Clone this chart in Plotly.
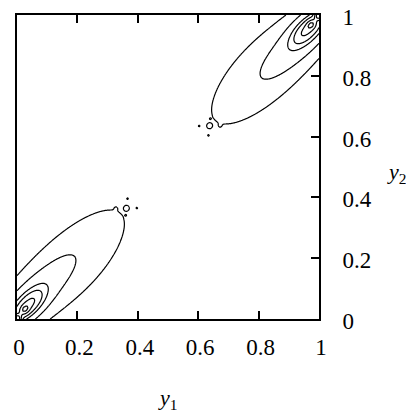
import numpy as np
import plotly.graph_objects as go

# ---- data ----
# Density components of the lower-left mode, in diagonal coordinates
# (u along the diagonal from the corner, v across it); the upper-right
# mode is the point reflection of the same components through (0.5, 0.5).
comp_u = [0.260, 0.022, 0.060, 0.039, 0.000, 0.515, 0.5388, 0.5388, 0.4907, 0.4978]
comp_v = [0.000, 0.018, 0.004, 0.003, 0.000, 0.0014, 0.0212, -0.0226, 0.0269, -0.0141]
comp_su = [0.250, 0.160, 0.050, 0.012, 0.010, 0.006, 0.0025, 0.0025, 0.006, 0.005]
comp_sv = [0.105, 0.045, 0.025, 0.010, 0.010, 0.006, 0.0025, 0.0025, 0.006, 0.005]
comp_h = [1.50, 1.74, 2.00, 0.80, 2.50, 0.335, 0.30, 0.30, 0.06, 0.05]

# where each contour line crosses the diagonal (outer to inner), lower-left mode
contour_tips = [0.345, 0.195, 0.103, 0.083, 0.058, 0.036]

x_ticks = [0, 0.2, 0.4, 0.6, 0.8, 1]
x_ticktext = ["0", "0.2", "0.4", "0.6", "0.8", "1"]
y_ticks = [0, 0.2, 0.4, 0.6, 0.8, 1]
y_ticktext = ["0", "0.2", "0.4", "0.6", "0.8", "1"]

# ---- field ----
S2 = np.sqrt(2.0)


def lobe(x, y):
    u = (x + y) / S2
    v = (y - x) / S2
    f = np.zeros_like(u, dtype=float)
    for uc, vc, su, sv, h in zip(comp_u, comp_v, comp_su, comp_sv, comp_h):
        f += h * np.exp(-0.5 * ((u - uc) / su) ** 2 - 0.5 * ((v - vc) / sv) ** 2)
    return f


def field(x, y):
    return lobe(x, y) + lobe(1 - x, 1 - y)


grid = np.linspace(0, 1, 501)
X, Y = np.meshgrid(grid, grid)
F = field(X, Y)

tips = np.array(contour_tips)
levels = field(tips, tips)
lv_ext = np.concatenate([[0.0], levels, [levels[-1] * 3]])
idx_ext = np.arange(len(lv_ext), dtype=float)
Z = np.round(np.interp(F, lv_ext, idx_ext), 4)

fig = go.Figure()
fig.add_trace(go.Contour(
    x=grid, y=grid, z=Z,
    autocontour=False,
    contours=dict(start=1, end=len(levels), size=1, coloring="lines", showlabels=False),
    colorscale=[[0, "black"], [1, "black"]],
    line=dict(width=1.2, smoothing=1),
    showscale=False,
    hoverinfo="skip",
))

tick_font = dict(family="Liberation Serif", size=23, color="black")
title_font = dict(family="Liberation Serif", size=22, color="black")
fig.update_layout(
    width=406, height=407,
    margin=dict(l=9, r=95, t=7, b=96),
    plot_bgcolor="white", paper_bgcolor="white",
    showlegend=False,
    xaxis=dict(
        range=[0, 1], tickvals=x_ticks, ticktext=x_ticktext,
        ticks="inside", ticklen=8, tickwidth=1.5, tickcolor="black",
        showline=True, linecolor="black", linewidth=2, mirror="ticks",
        showgrid=False, zeroline=False, tickfont=tick_font,
        ticklabelstandoff=6, ticklabelshift=2, automargin=False,
        ticklabeloverflow="allow",
    ),
    yaxis=dict(
        range=[0, 1], tickvals=y_ticks, ticktext=y_ticktext, side="right",
        ticks="inside", ticklen=8, tickwidth=1.5, tickcolor="black",
        showline=True, linecolor="black", linewidth=2, mirror=True,
        showgrid=False, zeroline=False, tickfont=tick_font,
        ticklabelstandoff=17, ticklabelshift=2, automargin=False,
        ticklabeloverflow="allow",
    ),
    annotations=[
        dict(text="<i>y</i><sub>1</sub>", xref="paper", yref="paper", x=0.497, y=-0.262,
             xanchor="center", yanchor="middle", showarrow=False, font=title_font),
        dict(text="<i>y</i><sub>2</sub>", xref="paper", yref="paper", x=1.256, y=0.481,
             xanchor="center", yanchor="middle", showarrow=False, font=title_font),
    ],
)

fig.write_html("out.html")
